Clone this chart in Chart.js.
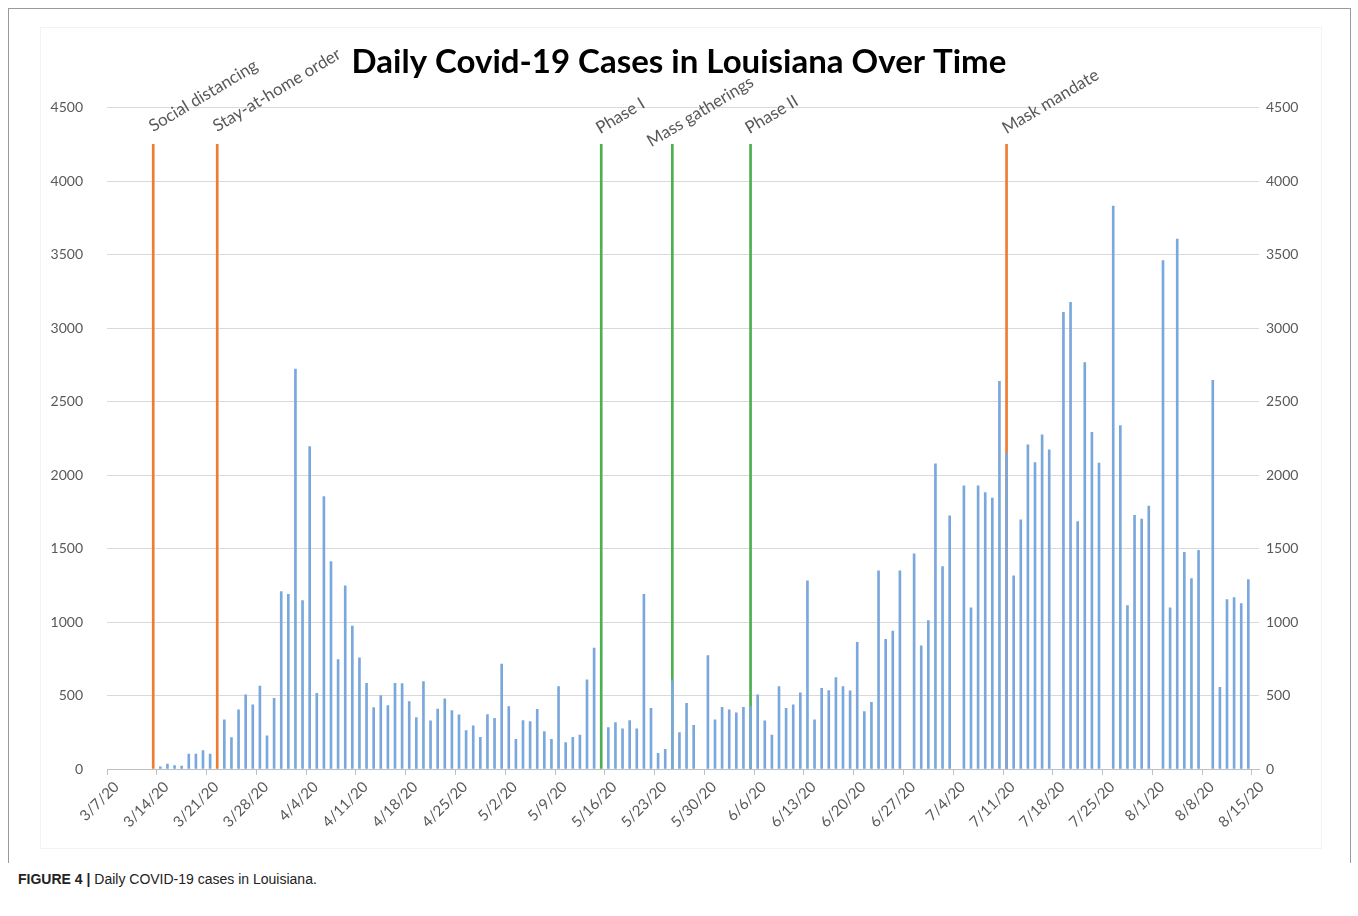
<!DOCTYPE html>
<html>
<head>
<meta charset="utf-8">
<script src="https://cdn.jsdelivr.net/npm/chart.js@4.4.1/dist/chart.umd.min.js"></script>
<style>
  body { margin: 0; background: #fff; }
  #frame { position: absolute; left: 8px; top: 8px; width: 1341px; height: 854px;
           border: 1px solid #9a9a9a; border-bottom: none; }
  #inner { position: absolute; left: 40px; top: 27px; width: 1280px; height: 820px;
           border: 1px solid #f3f3f3; }
  #wrap { position: absolute; left: 0; top: 0; width: 1358px; height: 860px; }
  #caption { position: absolute; left: 18px; top: 871px; font-family: "Liberation Sans", Arial, sans-serif;
             font-size: 14px; color: #222; }
</style>
</head>
<body>
<div id="frame"></div>
<div id="inner"></div>
<div id="wrap"><canvas id="covid-chart"></canvas></div>
<div id="caption"><b>FIGURE 4 |</b> Daily COVID-19 cases in Louisiana.</div>
<script>
// one label per day, 3/7/20 .. 8/15/20
const dayLabels = [];
for (let d = new Date(2020, 2, 7); d <= new Date(2020, 7, 15); d.setDate(d.getDate() + 1)) {
  dayLabels.push(`${d.getMonth() + 1}/${d.getDate()}/20`);
}

const tickLabels = ['3/7/20', '3/14/20', '3/21/20', '3/28/20', '4/4/20', '4/11/20', '4/18/20', '4/25/20',
  '5/2/20', '5/9/20', '5/16/20', '5/23/20', '5/30/20', '6/6/20', '6/13/20', '6/20/20', '6/27/20',
  '7/4/20', '7/11/20', '7/18/20', '7/25/20', '8/1/20', '8/8/20', '8/15/20'];

// daily new cases, one row per week starting on the tick date
const dailyCases = [
  null, null, null, null, null, null, null,
  15, 34, 23, 20, 102, 102, 125,
  102, null, 334, 213, 402, 504, 436,
  565, 225, 481, 1207, 1189, 2721, 1146,
  2194, 515, 1854, 1411, 745, 1247, 972,
  757, 583, 418, 499, 431, 583, 581,
  458, 349, 594, 327, 407, 477, 397,
  368, 261, 293, 216, 370, 345, 714,
  424, 202, 329, 322, 406, 254, 202,
  560, 179, 216, 231, 606, 822, null,
  281, 315, 274, 329, 274, 1189, 413,
  107, 134, 600, 247, 447, 297, null,
  771, 334, 420, 402, 383, 420, 424,
  504, 327, 231, 560, 413, 436, 519,
  1281, 334, 549, 533, 622, 560, 531,
  862, 390, 454, 1348, 883, 939, 1348,
  null, 1464, 838, 1009, 2076, 1377, 1723,
  null, 1927, 1096, 1927, 1881, 1843, 2637,
  2149, 1314, 1695, 2206, 2085, 2274, 2172,
  null, 3107, 3175, 1684, 2766, 2290, 2081,
  null, 3830, 2337, 1112, 1726, 1701, 1789,
  null, 3460, 1096, 3605, 1474, 1296, 1488,
  null, 2644, 556, 1153, 1167, 1126, 1288,
  null
];

// policy events drawn as tall marker bars
const eventNames = ['Social distancing', 'Stay-at-home order', 'Phase I', 'Mass gatherings', 'Phase II', 'Mask mandate'];
const eventDates = ['3/13/20', '3/22/20', '5/15/20', '5/25/20', '6/5/20', '7/11/20'];
const eventHeight = 4250;

const eventColors = ['#ed7d31', '#ed7d31', '#4caf50', '#4caf50', '#4caf50', '#ed7d31'];
const eventLabelShift = [[1, -2], [1, -2], [0, 0], [-20, 13], [0, 0], [1, 0]];

const eventData = dayLabels.map(l => eventDates.includes(l) ? eventHeight : null);
const eventBarColors = dayLabels.map(l => {
  const k = eventDates.indexOf(l);
  return k >= 0 ? eventColors[k] : 'transparent';
});

const tickFont = { family: 'Lato', size: 14 };
const greyText = '#595959';

const eventText = {
  id: 'eventText',
  afterDatasetsDraw(chart) {
    const ctx = chart.ctx;
    const xs = chart.scales.x, ys = chart.scales.y;
    ctx.save();
    ctx.font = '17px Lato';
    ctx.fillStyle = greyText;
    ctx.textAlign = 'left';
    ctx.textBaseline = 'alphabetic';
    eventNames.forEach((name, k) => {
      const idx = dayLabels.indexOf(eventDates[k]);
      const x = xs.getPixelForValue(idx) - 1 + eventLabelShift[k][0];
      const y = ys.getPixelForValue(eventHeight) - 10 + eventLabelShift[k][1];
      ctx.save();
      ctx.translate(x, y);
      ctx.rotate(-31 * Math.PI / 180);
      ctx.fillText(name, 0, 0);
      ctx.restore();
    });
    ctx.restore();
  }
};

const chartEl = document.getElementById('covid-chart');
new Chart(chartEl, {
  type: 'bar',
  data: {
    labels: dayLabels,
    datasets: [
      {
        label: 'Daily cases',
        data: dailyCases,
        backgroundColor: '#7aa8dc',
        barThickness: 2,
        grouped: false,
        order: 1,
      },
      {
        label: 'Events',
        data: eventData,
        backgroundColor: eventBarColors,
        barThickness: 2,
        grouped: false,
        order: 2,
      },
    ],
  },
  options: {
    responsive: true,
    maintainAspectRatio: false,
    animation: false,
    layout: { padding: 0 },
    plugins: {
      legend: { display: false },
      tooltip: { enabled: false },
      title: {
        display: true,
        text: 'Daily Covid-19 Cases in Louisiana Over Time',
        font: { family: 'Lato', size: 33, weight: 'bold' },
        color: '#000',
        padding: { top: 43, bottom: 25 },
      },
    },
    scales: {
      x: {
        grid: {
          display: true,
          drawOnChartArea: false,
          tickLength: 6,
          color: c => (c.index % 7 === 0 ? '#bfbfbf' : 'transparent'),
        },
        border: { color: '#bfbfbf' },
        ticks: {
          autoSkip: false,
          minRotation: 45,
          maxRotation: 45,
          labelOffset: 6,
          font: { family: 'Lato', size: 15 },
          color: greyText,
          callback: (v, i) => (i % 7 === 0 ? tickLabels[i / 7] : ''),
        },
        afterFit: s => { s.height = 91; },
      },
      y: {
        position: 'left',
        min: 0,
        max: 4500,
        ticks: { stepSize: 500, font: tickFont, color: greyText, padding: 24, callback: v => String(v) },
        grid: { color: '#d9d9d9', drawTicks: false },
        border: { display: false },
        afterFit: s => { s.width = 107; },
      },
      y2: {
        position: 'right',
        min: 0,
        max: 4500,
        ticks: { stepSize: 500, font: tickFont, color: greyText, padding: 7, callback: v => String(v) },
        grid: { drawOnChartArea: false, drawTicks: false },
        border: { display: false },
        afterFit: s => { s.width = 99; },
      },
    },
  },
  plugins: [eventText],
});
</script>
</body>
</html>
